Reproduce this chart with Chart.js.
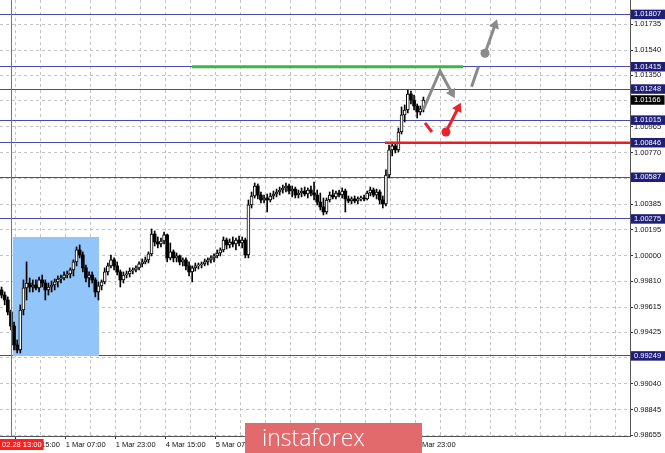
<!DOCTYPE html>
<html><head><meta charset="utf-8">
<script src="https://cdn.jsdelivr.net/npm/chart.js@4/dist/chart.umd.min.js"></script>
<style>html,body{margin:0;padding:0;background:#fff}#wrap{width:665px;height:453px;position:relative}</style>
</head><body><div id="wrap"><canvas id="c"></canvas></div>
<script>
const openP = [0.99743,0.99705,0.99668,0.99578,0.99473,0.99331,0.99293,0.99593,0.99758,0.99795,
0.99765,0.99780,0.99758,0.99818,0.99795,0.99743,0.99765,0.99780,0.99803,0.99825,
0.99833,0.99855,0.99863,0.99893,0.99953,1.00043,1.00005,0.99908,0.99833,0.99855,
0.99818,0.99728,0.99773,0.99803,0.99878,0.99923,0.99968,0.99923,0.99878,0.99818,
0.99855,0.99863,0.99885,0.99893,0.99908,0.99938,0.99953,0.99968,1.00013,1.00162,
1.00102,1.00087,1.00110,1.00155,0.99983,1.00028,0.99983,0.99998,0.99953,0.99968,
0.99923,0.99878,0.99908,0.99923,0.99930,0.99938,0.99953,0.99968,0.99983,0.99998,
1.00020,1.00043,1.00117,1.00080,1.00102,1.00087,1.00117,1.00095,1.00117,1.00005,
1.00380,1.00447,1.00522,1.00454,1.00417,1.00432,1.00417,1.00447,1.00462,1.00477,
1.00492,1.00507,1.00522,1.00484,1.00499,1.00454,1.00469,1.00484,1.00462,1.00492,
1.00469,1.00454,1.00402,1.00365,1.00327,1.00417,1.00454,1.00440,1.00469,1.00454,
1.00484,1.00425,1.00410,1.00425,1.00410,1.00425,1.00432,1.00425,1.00469,1.00492,
1.00454,1.00477,1.00417,1.00387,1.00604,1.00792,1.00822,1.00792,1.00926,1.01054,
1.01091,1.01211,1.01166,1.01121,1.01076,1.01099];
const highP = [0.99765,0.99728,0.99691,0.99593,0.99503,0.99368,0.99631,0.99818,0.99953,0.99833,
0.99818,0.99818,0.99840,0.99855,0.99818,0.99795,0.99810,0.99825,0.99848,0.99855,
0.99878,0.99885,0.99908,0.99968,1.00065,1.00080,1.00028,0.99930,0.99878,0.99878,
0.99833,0.99803,0.99818,0.99908,0.99945,1.00005,0.99983,0.99953,0.99893,0.99878,
0.99885,0.99908,0.99908,0.99923,0.99953,0.99975,0.99990,1.00028,1.00200,1.00185,
1.00140,1.00132,1.00177,1.00162,1.00095,1.00043,1.00020,1.00005,0.99983,0.99983,
0.99953,0.99923,0.99945,0.99945,0.99953,0.99975,0.99983,0.99998,1.00013,1.00043,
1.00058,1.00140,1.00132,1.00125,1.00140,1.00132,1.00147,1.00140,1.00132,1.00417,
1.00477,1.00544,1.00537,1.00477,1.00454,1.00462,1.00469,1.00484,1.00499,1.00514,
1.00529,1.00544,1.00537,1.00522,1.00514,1.00492,1.00507,1.00514,1.00507,1.00522,
1.00552,1.00492,1.00469,1.00432,1.00432,1.00477,1.00492,1.00484,1.00492,1.00507,
1.00499,1.00447,1.00440,1.00447,1.00440,1.00447,1.00454,1.00484,1.00514,1.00507,
1.00499,1.00492,1.00447,1.00642,1.00829,1.00851,1.00844,1.00956,1.01114,1.01129,
1.01241,1.01233,1.01203,1.01136,1.01121,1.01188];
const lowP = [0.99683,0.99631,0.99556,0.99443,0.99293,0.99271,0.99271,0.99556,0.99668,0.99728,
0.99728,0.99743,0.99728,0.99765,0.99668,0.99705,0.99728,0.99743,0.99765,0.99795,
0.99818,0.99833,0.99833,0.99848,0.99923,0.99983,0.99878,0.99803,0.99765,0.99795,
0.99691,0.99668,0.99743,0.99788,0.99855,0.99908,0.99893,0.99855,0.99765,0.99795,
0.99833,0.99840,0.99863,0.99878,0.99893,0.99915,0.99938,0.99945,0.99998,1.00072,
1.00058,1.00065,1.00087,0.99953,0.99968,0.99953,0.99953,0.99930,0.99923,0.99893,
0.99848,0.99803,0.99885,0.99900,0.99908,0.99923,0.99930,0.99945,0.99953,0.99983,
0.99998,1.00028,1.00050,1.00058,1.00065,1.00043,1.00072,1.00058,0.99983,0.99983,
1.00357,1.00432,1.00425,1.00395,1.00395,1.00327,1.00402,1.00425,1.00440,1.00454,
1.00469,1.00477,1.00462,1.00440,1.00432,1.00432,1.00440,1.00447,1.00432,1.00447,
1.00417,1.00380,1.00342,1.00305,1.00312,1.00402,1.00425,1.00425,1.00440,1.00432,
1.00327,1.00395,1.00387,1.00395,1.00387,1.00410,1.00410,1.00417,1.00447,1.00440,
1.00425,1.00387,1.00357,1.00372,1.00582,1.00747,1.00769,1.00777,1.00911,1.01001,
1.01069,1.01136,1.01091,1.01031,1.01054,1.01076];
const closeP = [0.99705,0.99668,0.99578,0.99473,0.99331,0.99293,0.99593,0.99758,0.99795,0.99765,
0.99780,0.99758,0.99818,0.99795,0.99743,0.99765,0.99780,0.99803,0.99825,0.99833,
0.99855,0.99863,0.99893,0.99953,1.00043,1.00005,0.99908,0.99833,0.99855,0.99818,
0.99728,0.99773,0.99803,0.99878,0.99923,0.99968,0.99923,0.99878,0.99818,0.99855,
0.99863,0.99885,0.99893,0.99908,0.99938,0.99953,0.99968,1.00013,1.00162,1.00102,
1.00087,1.00110,1.00155,0.99983,1.00028,0.99983,0.99998,0.99953,0.99968,0.99923,
0.99878,0.99908,0.99923,0.99930,0.99938,0.99953,0.99968,0.99983,0.99998,1.00020,
1.00043,1.00117,1.00080,1.00102,1.00087,1.00117,1.00095,1.00117,1.00005,1.00380,
1.00447,1.00522,1.00454,1.00417,1.00432,1.00417,1.00447,1.00462,1.00477,1.00492,
1.00507,1.00522,1.00484,1.00499,1.00454,1.00469,1.00484,1.00462,1.00492,1.00469,
1.00454,1.00402,1.00365,1.00327,1.00417,1.00454,1.00440,1.00469,1.00454,1.00484,
1.00425,1.00410,1.00425,1.00410,1.00425,1.00432,1.00425,1.00469,1.00492,1.00454,
1.00477,1.00417,1.00387,1.00604,1.00792,1.00822,1.00792,1.00926,1.01054,1.01091,
1.01211,1.01166,1.01121,1.01076,1.01099,1.01166];

const timeLabels = ["28 Feb 15:00","1 Mar 07:00","1 Mar 23:00","4 Mar 15:00","5 Mar 07:00","5 Mar 23:00","6 Mar 15:00","7 Mar 07:00","7 Mar 23:00"];
const gridPrices = [1.01735,1.01540,1.01350,1.01160,1.00965,1.00770,1.00580,1.00385,1.00195,1.00000,0.99810,0.99615,0.99425,0.99235,0.99040,0.98845,0.98655];
const levelPrices = [1.01807,1.01415,1.01248,1.01015,1.00846,1.00587,1.00275,0.99249];
const lastPrice = 1.01166;
const cursorBar = 3;
const cursorLabel = "02.28 13:00";
const greenLevel = 1.01415, greenBars = [60.9, 147.7];
const redLevel = 1.00846, redBars = [122.7, 202];
const boxBars = [3.5, 31.2], boxPrices = [0.99249, 1.00139];
const grayPathX = [134.9, 140.3, 144.1], grayPathY = [1.01091, 1.01383, 1.01218];
const grayDashX = [150.4, 152.6], grayDashY = [1.01266, 1.01415];
const grayArrowX = [154.7, 157.9], grayArrowY = [1.01516, 1.01728];
const redDashX = [135.5, 137.7], redDashY = [1.00994, 1.00926];
const redArrowX = [142.2, 146.1], redArrowY = [1.00926, 1.01106];
const watermark = "instaforex";

const FONT = {family: '"Liberation Sans", Arial, sans-serif', size: 7.5, lineHeight: 1};
const LEVEL_COLOR = '#4a4aac';
const idx = openP.map((_, i) => i);
const bull = idx.map(i => closeP[i] >= openP[i]);
const pts = (xs, ys) => xs.map((x, i) => ({x, y: ys[i]}));
const near = (a, b) => Math.abs(a - b) < 1e-7;
const isLevel = v => levelPrices.some(l => near(l, v));
const isLast = v => near(v, lastPrice);
const hidden = v => !isLevel(v) && !isLast(v) && ([...levelPrices, lastPrice].some(l => Math.abs(l - v) < 0.0002));
const noPad = s => { s.paddingLeft = 0; s.paddingRight = 0; s.paddingTop = 0; s.paddingBottom = 0; };

const GRAY = '#8a8a8a', RED = '#e8232b';
function arrowDs(xs, ys, color, startDot, headRot, order) {
  return {type: 'line', data: pts(xs, ys), borderColor: color, backgroundColor: color, borderWidth: 3,
    pointStyle: xs.map((_, i) => i === xs.length - 1 ? 'triangle' : 'circle'),
    pointRadius: xs.map((_, i) => i === xs.length - 1 ? (headRot == null ? 0 : 6) : (i === 0 && startDot ? 4.5 : 0)),
    rotation: xs.map((_, i) => i === xs.length - 1 ? (headRot || 0) : 0),
    pointBorderWidth: 0, order, clip: false};
}

const overlay = {
  id: 'overlay',
  afterDatasetsDraw(chart) {
    const {ctx, chartArea: a, scales: {x}} = chart;
    const px = Math.round(x.getPixelForValue(cursorBar)) + 0.5;
    ctx.save(); ctx.strokeStyle = '#ff3b3b'; ctx.lineWidth = 1;
    ctx.beginPath(); ctx.moveTo(px, a.top); ctx.lineTo(px, a.bottom); ctx.stroke(); ctx.restore();
  },
  afterDraw(chart) {
    const {ctx, chartArea: a, scales: {x}} = chart;
    ctx.save();
    ctx.font = '7.5px "Liberation Sans", Arial, sans-serif';
    const w = ctx.measureText(cursorLabel).width + 4;
    const px = x.getPixelForValue(cursorBar);
    const left = Math.max(0, px - w / 2);
    ctx.fillStyle = '#ff1e1e';
    ctx.fillRect(left, a.bottom + 3, w, 11);
    ctx.fillStyle = '#fff'; ctx.textBaseline = 'middle'; ctx.textAlign = 'left';
    ctx.fillText(cursorLabel, left + 2, a.bottom + 9);
    ctx.fillStyle = 'rgb(226,106,108)';
    ctx.fillRect(245, 423, 177, 30);
    ctx.fillStyle = '#fff';
    ctx.font = '300 23px "Open Sans", sans-serif';
    ctx.textBaseline = 'alphabetic';
    ctx.fillText(watermark, 262, 446);
    ctx.restore();
  }
};

new Chart(document.getElementById('c'), {
  type: 'bar',
  data: {datasets: [
    {type: 'line', data: pts(boxBars, [boxPrices[1], boxPrices[1]]), fill: {value: boxPrices[0]},
      backgroundColor: 'rgb(146,197,250)', borderWidth: 0, pointRadius: 0, order: 100},
    {data: idx.map(i => ({x: i, y: [lowP[i], highP[i]]})), backgroundColor: '#000', barThickness: 1, grouped: false, order: 5},
    {data: idx.map(i => ({x: i, y: [openP[i], closeP[i]]})), backgroundColor: idx.map(i => bull[i] ? '#fff' : '#000'),
      borderColor: '#000', borderWidth: idx.map(i => bull[i] ? 1 : 0), borderSkipped: false, barThickness: 3, minBarLength: 1, grouped: false, order: 4},
    {type: 'line', data: pts(greenBars, [greenLevel, greenLevel]), borderColor: 'rgb(60,182,72)', borderWidth: 3, pointRadius: 0, order: 3},
    {type: 'line', data: pts(redBars, [redLevel, redLevel]), borderColor: '#f01c1c', borderWidth: 2.5, pointRadius: 0, order: 3},
    arrowDs(grayPathX, grayPathY, GRAY, false, 151, 2),
    arrowDs(grayDashX, grayDashY, GRAY, false, null, 2),
    arrowDs(grayArrowX, grayArrowY, GRAY, true, 20, 2),
    arrowDs(redDashX, redDashY, RED, false, null, 2),
    arrowDs(redArrowX, redArrowY, RED, true, 27, 2)
  ]},
  options: {
    responsive: true, maintainAspectRatio: false, animation: false, events: [],
    layout: {padding: 0, autoPadding: false},
    plugins: {legend: {display: false}, tooltip: {enabled: false}},
    scales: {
      x: {type: 'linear', position: 'bottom', min: -0.5, max: 201.1, offset: false,
        afterBuildTicks: s => { const t = []; for (let v = 4.5; v <= 201; v += 8) t.push({value: v}); s.ticks = t; },
        afterFit: s => { s.height = 17; noPad(s); },
        grid: {offset: false, color: '#c4c4c4', lineWidth: 1, tickLength: 3, tickBorderDash: [],
          tickColor: c => (c.index % 2 === 0 && timeLabels[c.index / 2]) ? '#333' : 'rgba(0,0,0,0)'},
        border: {display: true, color: '#555', width: 1, dash: c => c.tick ? [3, 3] : []},
        ticks: {autoSkip: false, maxRotation: 0, minRotation: 0, align: 'start', padding: 2, color: '#111', font: FONT,
          callback: (v, i) => (i % 2 === 0 && timeLabels[i / 2]) ? timeLabels[i / 2] : ''}
      },
      y: {type: 'linear', position: 'right', min: 0.98649, max: 1.01915, bounds: 'data',
        afterBuildTicks: s => { s.ticks = [...gridPrices, ...levelPrices, lastPrice].sort((a, b) => a - b).map(v => ({value: v})); },
        afterFit: s => { s.width = 35; noPad(s); },
        grid: {lineWidth: 1, tickLength: 3, tickBorderDash: [],
          color: c => { const v = c.tick ? c.tick.value : null; if (v == null) return '#c4c4c4'; if (isLast(v)) return 'rgba(0,0,0,0)'; if (isLevel(v)) return LEVEL_COLOR; return '#c4c4c4'; },
          tickColor: c => { const v = c.tick ? c.tick.value : null; if (v == null) return '#333'; if (isLast(v)) return 'rgba(0,0,0,0)'; if (isLevel(v)) return LEVEL_COLOR; return '#333'; }},
        border: {display: true, color: '#555', width: 1, dash: c => (c.tick && !isLevel(c.tick.value)) ? [3, 3] : []},
        ticks: {autoSkip: false, padding: 1, font: FONT,
          color: c => (isLevel(c.tick.value) || isLast(c.tick.value)) ? '#fff' : '#111',
          showLabelBackdrop: c => isLevel(c.tick.value) || isLast(c.tick.value),
          backdropColor: c => isLast(c.tick.value) ? '#000' : '#1f1f7a',
          backdropPadding: {left: 3, right: 4, top: 1, bottom: 1},
          callback: v => hidden(v) ? '' : v.toFixed(5)}
      }
    }
  },
  plugins: [overlay]
});
</script></body></html>
